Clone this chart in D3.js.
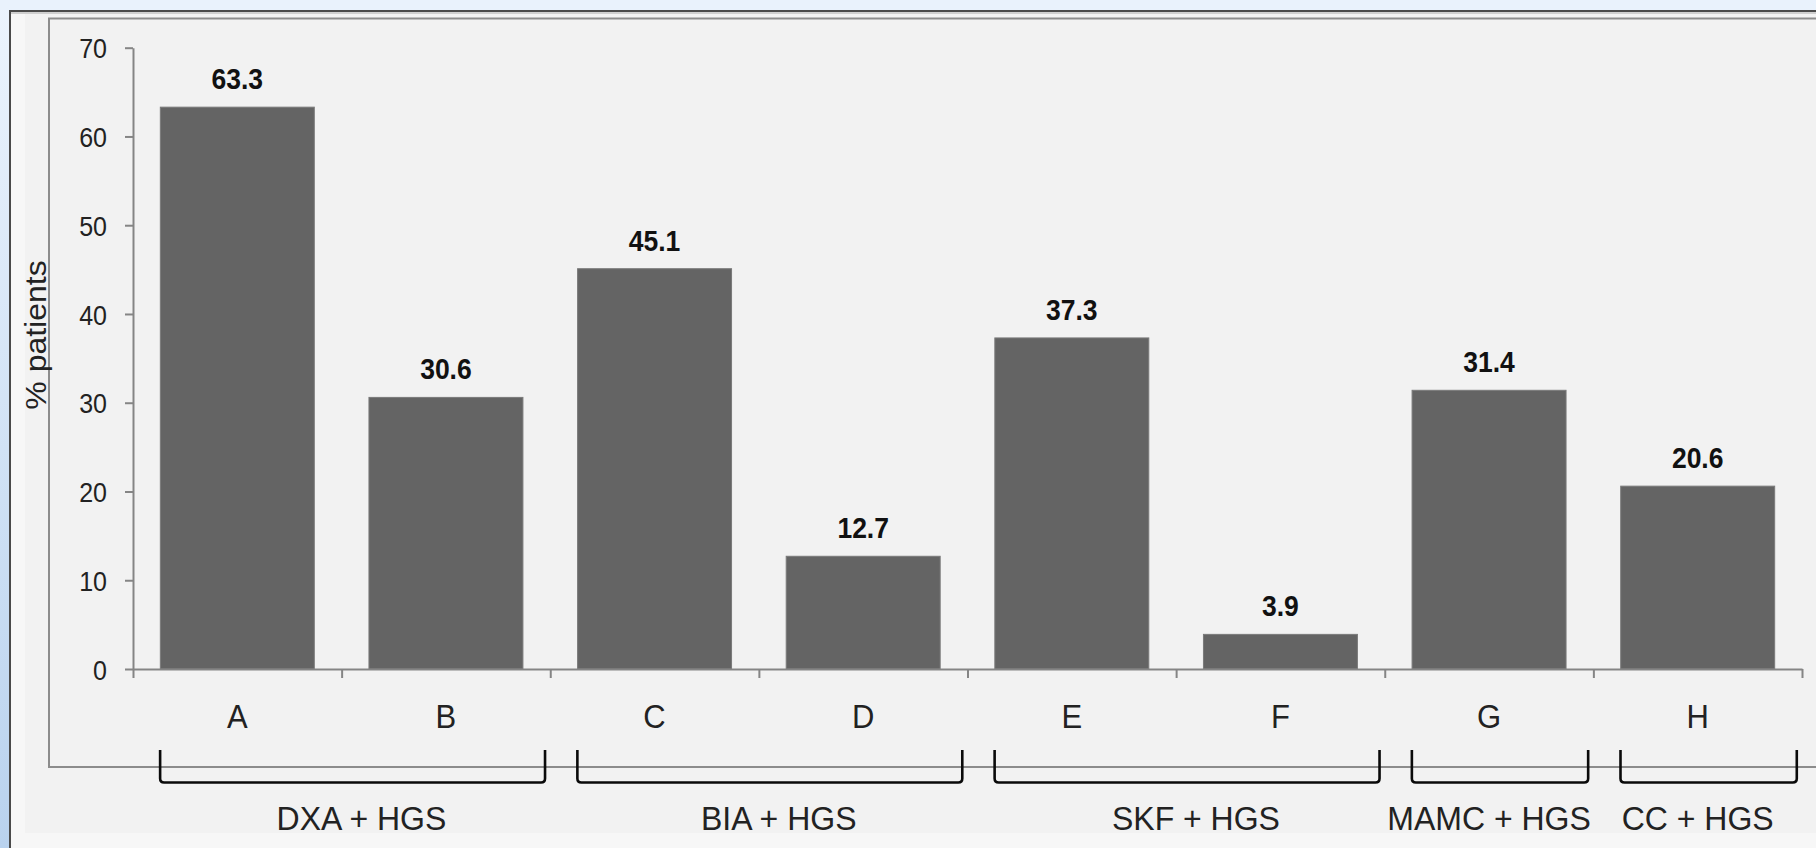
<!DOCTYPE html>
<html>
<head>
<meta charset="utf-8">
<script src="https://cdn.jsdelivr.net/npm/d3@7"></script>
<style>
  html, body { margin: 0; padding: 0; background: #dbe8f6; }
  svg { display: block; }
  text { font-family: "Liberation Sans", Arial, sans-serif; }
</style>
</head>
<body>
<svg id="chart" width="1816" height="848"></svg>
<script>
// Share of patients classified as sarcopenic by each combination of methods
const categories = ["A", "B", "C", "D", "E", "F", "G", "H"];
const values = [63.3, 30.6, 45.1, 12.7, 37.3, 3.9, 31.4, 20.6];
const yTicks = [0, 10, 20, 30, 40, 50, 60, 70];
const yTitle = "% patients";
const groupNames = ["DXA + HGS", "BIA + HGS", "SKF + HGS", "MAMC + HGS", "CC + HGS"];
const groupMembers = [["A", "B"], ["C", "D"], ["E", "F"], ["G"], ["H"]];

const W = 1816, H = 848;
const svg = d3.select("#chart");

// page backdrop and framed panel
const defs = svg.append("defs");
const grad = defs.append("linearGradient").attr("id", "bg").attr("x1", 0).attr("y1", 0).attr("x2", 0).attr("y2", 1);
grad.append("stop").attr("offset", 0).attr("stop-color", "#ecf4fd");
grad.append("stop").attr("offset", 1).attr("stop-color", "#b9d2ee");
svg.append("rect").attr("width", W).attr("height", H).attr("fill", "url(#bg)");
svg.append("rect").attr("x", 0).attr("y", 0).attr("width", W).attr("height", 10).attr("fill", "#e9f2fc");

svg.append("rect").attr("x", 10).attr("y", 11).attr("width", W).attr("height", H)
  .attr("fill", "#f7f7f7").attr("stroke", "#4a4a4a").attr("stroke-width", 2);
svg.append("line").attr("x1", 11).attr("x2", W).attr("y1", 13).attr("y2", 13)
  .attr("stroke", "#a8a8a8").attr("stroke-width", 1);
svg.append("rect").attr("x", 25).attr("y", 14).attr("width", W).attr("height", 833 - 14)
  .attr("fill", "#f2f2f2");

// plot box
svg.append("rect").attr("x", 49).attr("y", 18.5).attr("width", W).attr("height", 767 - 18.5)
  .attr("fill", "none").attr("stroke", "#8c8c8c").attr("stroke-width", 2);

// scales
const x0 = 133, x1 = 1802, yBase = 669, yTop = 47.7;
const x = d3.scaleBand().domain(categories).range([x0, x1]).paddingInner(0.262).paddingOuter(0.131);
const xIdx = d3.scaleLinear().domain([0, categories.length]).range([x0, x1]);
const y = d3.scaleLinear().domain([0, 70]).range([yBase, yTop]);

// bars
svg.append("g").selectAll("rect").data(values).join("rect")
  .attr("x", (d, i) => x(categories[i]))
  .attr("y", d => y(d))
  .attr("width", x.bandwidth())
  .attr("height", d => y(0) - y(d))
  .attr("fill", "#646464")
  .attr("stroke", "#7a7a7a")
  .attr("stroke-width", 1);

// value labels
svg.append("g").selectAll("text").data(values).join("text")
  .attr("transform", (d, i) => `translate(${x(categories[i]) + x.bandwidth() / 2},${y(d) - 18}) scale(1,1.08)`)
  .attr("text-anchor", "middle")
  .attr("font-size", 26.5)
  .attr("font-weight", "bold")
  .attr("fill", "#111")
  .text(d => d.toFixed(1));

// y axis
const yAxis = svg.append("g").attr("transform", `translate(${x0},0)`)
  .call(d3.axisLeft(y).tickValues(yTicks).tickSize(8).tickSizeOuter(0).tickPadding(18));
yAxis.selectAll("path, line").attr("stroke", "#858585").attr("stroke-width", 2);
yAxis.selectAll("text")
  .attr("font-size", 25).attr("font-family", "Liberation Sans, Arial, sans-serif")
  .attr("fill", "#222").attr("dy", "0.36em")
  .attr("transform", "scale(1,1.13)");

// x axis: boundary ticks between categories
const xAxis = svg.append("g").attr("transform", `translate(0,${yBase})`)
  .call(d3.axisBottom(xIdx).tickValues(d3.range(categories.length + 1)).tickFormat("").tickSize(9).tickSizeOuter(0));
xAxis.selectAll("path, line").attr("stroke", "#858585").attr("stroke-width", 2);

// category labels
const xLab = svg.append("g").attr("transform", `translate(0,${yBase})`)
  .call(d3.axisBottom(x).tickSize(0).tickPadding(0));
xLab.select(".domain").remove();
xLab.selectAll("text")
  .attr("font-size", 31).attr("font-family", "Liberation Sans, Arial, sans-serif")
  .attr("fill", "#222").attr("dy", 0).attr("y", 0)
  .attr("transform", "translate(0,59) scale(1,1.1)");

// y title
svg.append("text")
  .attr("transform", "translate(46,335) rotate(-90) scale(1,0.9)")
  .attr("text-anchor", "middle")
  .attr("font-size", 32)
  .attr("fill", "#222")
  .text(yTitle);

// group brackets
const step = xIdx(1) - xIdx(0);
const groups = groupNames.map((name, g) => {
  const first = categories.indexOf(groupMembers[g][0]);
  const last = categories.indexOf(groupMembers[g][groupMembers[g].length - 1]);
  const n = last - first + 1;
  return {
    name,
    a: xIdx(first) + step * 0.13,
    b: xIdx(last + 1) - step * 0.025,
    mid: (xIdx(first) + xIdx(last + 1)) / 2 + (n - 1) * step * 0.095
  };
});
const bTop = 750, bBot = 782.5, r = 4;
svg.append("g").selectAll("path").data(groups).join("path")
  .attr("d", d => `M${d.a},${bTop} L${d.a},${bBot - r} Q${d.a},${bBot} ${d.a + r},${bBot} L${d.b - r},${bBot} Q${d.b},${bBot} ${d.b},${bBot - r} L${d.b},${bTop}`)
  .attr("fill", "none").attr("stroke", "#0a0a0a").attr("stroke-width", 2.6);

svg.append("g").selectAll("text").data(groups).join("text")
  .attr("transform", d => `translate(${d.mid},830) scale(1,1.05)`)
  .attr("text-anchor", "middle")
  .attr("font-size", 32)
  .attr("fill", "#222")
  .text(d => d.name);
</script>
</body>
</html>
